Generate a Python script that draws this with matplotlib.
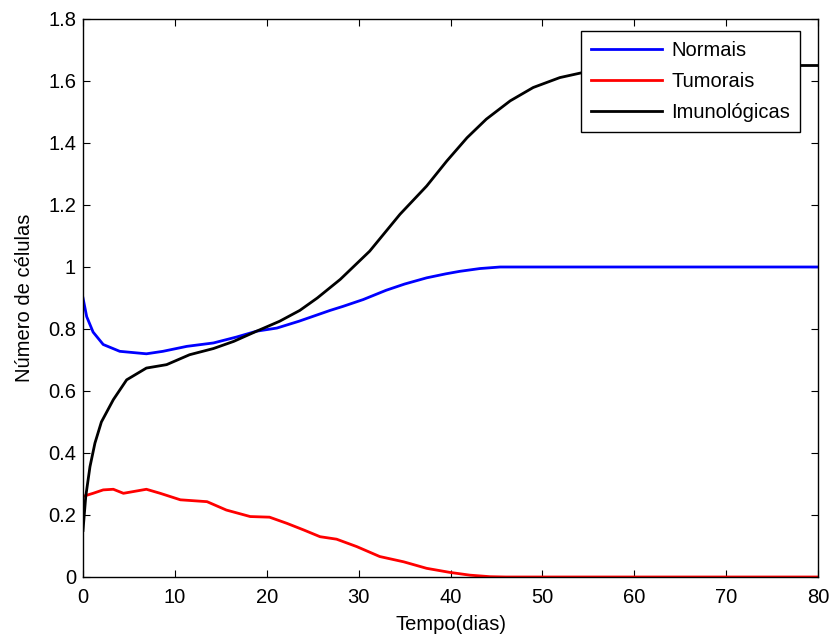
import numpy as np
import matplotlib
matplotlib.use('Agg')
import matplotlib.pyplot as plt

plt.rcParams['font.family'] = ['Liberation Sans', 'DejaVu Sans']

# Values
t_normais = [0, 0.4, 1.1, 2.2, 4.0, 6.9, 8.7, 11.3, 14.2, 16.7, 18.9, 21.1, 23.5,
             26.9, 28.3, 30.5, 33.0, 35.0, 37.4, 39.5, 41.0, 43.2, 45.4, 60, 80]
normais = [0.90, 0.84, 0.79, 0.75, 0.728, 0.72, 0.728, 0.744, 0.755, 0.774, 0.793,
           0.803, 0.825, 0.860, 0.873, 0.895, 0.925, 0.945, 0.965, 0.978, 0.986,
           0.995, 1.0, 1.0, 1.0]

t_tumorais = [0, 1.1, 2.2, 3.3, 4.4, 6.9, 8.4, 10.6, 13.5, 15.6, 18.2, 20.3, 22.2,
              24.0, 25.8, 27.6, 29.8, 32.3, 34.9, 37.4, 39.9, 42.1, 44.3, 46, 80]
tumorais = [0.26, 0.27, 0.281, 0.283, 0.27, 0.283, 0.27, 0.249, 0.243, 0.216, 0.195,
            0.193, 0.173, 0.152, 0.130, 0.122, 0.098, 0.066, 0.049, 0.028, 0.015,
            0.006, 0.001, 0.0, 0.0]

t_imuno = [0, 0.3, 0.76, 1.3, 2.0, 3.3, 4.75, 6.9, 9.1, 11.6, 14.2, 16.4, 18.9,
           21.4, 23.6, 25.5, 28.0, 31.2, 34.5, 37.4, 39.6, 41.8, 43.9, 46.5, 49.0,
           51.9, 54.5, 57, 60, 64, 80]
imuno = [0.15, 0.26, 0.356, 0.432, 0.50, 0.572, 0.636, 0.674, 0.685, 0.717, 0.737,
         0.760, 0.793, 0.825, 0.86, 0.90, 0.96, 1.051, 1.170, 1.261, 1.342, 1.417,
         1.477, 1.536, 1.579, 1.611, 1.628, 1.640, 1.647, 1.65, 1.65]

fig = plt.figure(figsize=(8.32, 6.37), dpi=100)
ax = fig.add_axes([83/832, 1 - 577/637, 735/832, 558/637])

ax.plot(t_normais, normais, color='#0000ff', lw=2, label='Normais')
ax.plot(t_tumorais, tumorais, color='#ff0000', lw=2, label='Tumorais')
ax.plot(t_imuno, imuno, color='black', lw=2, label='Imunológicas')

ax.set_xlim(0, 80)
ax.set_ylim(0, 1.8)
ax.set_xticks(np.arange(0, 81, 10))
ax.set_yticks([0, 0.2, 0.4, 0.6, 0.8, 1, 1.2, 1.4, 1.6, 1.8])
ax.set_yticklabels(['0', '0.2', '0.4', '0.6', '0.8', '1', '1.2', '1.4', '1.6', '1.8'])
ax.tick_params(direction='in', length=5, width=0.8, top=True, right=True,
               labelsize=14.5)
ax.tick_params(axis='x', pad=8)
ax.tick_params(axis='y', pad=5)
for s in ax.spines.values():
    s.set_linewidth(1.0)

ax.set_xlabel('Tempo(dias)', fontsize=14.5, labelpad=6)
ax.set_ylabel('Número de células', fontsize=14.5, labelpad=10)

leg = ax.legend(loc='upper right', bbox_to_anchor=(0.9755, 0.9785), borderaxespad=0,
                fancybox=False, fontsize=14.5, handlelength=3.5, labelspacing=0.6,
                handletextpad=0.45, borderpad=0.5, framealpha=1)
leg.get_frame().set_edgecolor('black')
leg.get_frame().set_linewidth(1.0)

fig.savefig('out.png', dpi=100)
